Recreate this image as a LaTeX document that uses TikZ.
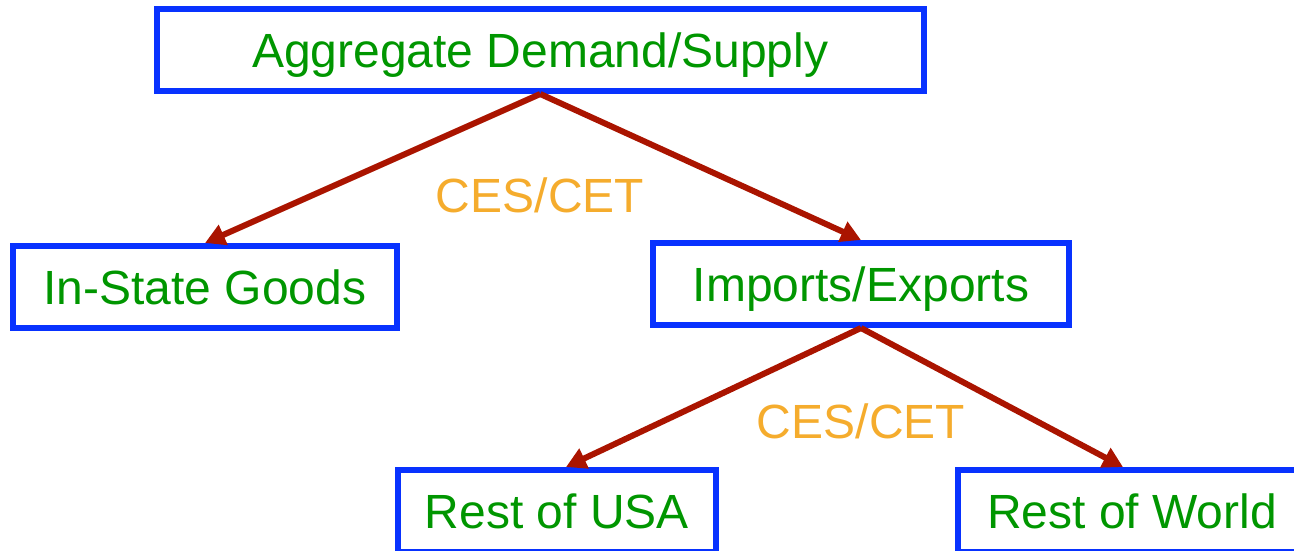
\documentclass[tikz,border=0pt]{standalone}
\usepackage{fontspec}
\setmainfont{Liberation Sans}
\usetikzlibrary{arrows.meta}
\definecolor{boxblue}{RGB}{8,50,255}
\definecolor{txtgreen}{RGB}{0,150,0}
\definecolor{lblorange}{RGB}{245,172,45}
\definecolor{arrred}{RGB}{170,20,0}
\tikzset{
  box/.style={draw=boxblue, line width=6pt, minimum height=82pt, inner sep=0pt,
    text height=34.5pt, text depth=0pt,
    text=txtgreen, font=\fontsize{48}{56}\selectfont},
  lbl/.style={text=lblorange, font=\fontsize{48}{56}\selectfont, inner sep=0pt,
    text height=34.5pt, text depth=0pt},
  conn/.style={draw=arrred, line width=6pt, -{Triangle[length=20pt,width=21pt]}}
}
\begin{document}
\begin{tikzpicture}[x=1pt,y=-1pt]
\useasboundingbox (0,0) rectangle (1294,551);
\clip (0,0) rectangle (1294,551);
\node[box, minimum width=766.5pt] (agg) at (540.25,50) {Aggregate Demand/Supply};
\node[box, minimum width=384pt] (instate) at (205,287) {In-State Goods};
\node[box, minimum width=416pt] (imp) at (861,284) {Imports/Exports};
\node[box, minimum width=318pt] (usa) at (557,511) {Rest of USA};
\node[box, minimum width=348pt] (world) at (1132,511) {Rest of World};
\node[lbl] (ces1) at (540,195) {CES/CET};
\node[lbl] (ces2) at (861,421) {CES/CET};
\draw[conn] (agg.south) -- (instate.north);
\draw[conn] (agg.south) -- (imp.north);
\draw[conn] (imp.south) -- ([xshift=9pt]usa.north);
\draw[conn] (imp.south) -- ([xshift=-9pt]world.north);
\end{tikzpicture}
\end{document}
